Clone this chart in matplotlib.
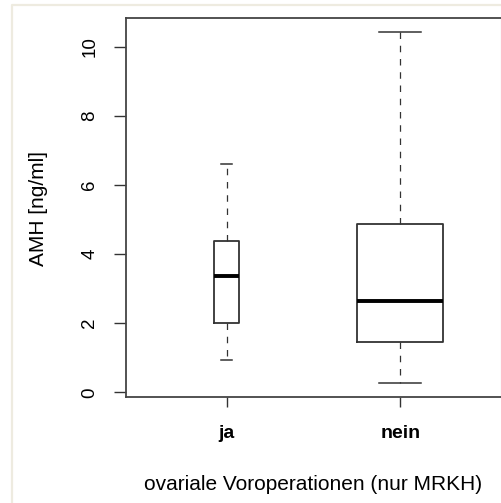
import matplotlib
matplotlib.use("Agg")
import matplotlib.pyplot as plt
from matplotlib.lines import Line2D

plt.rcParams['font.family'] = ['Liberation Sans', 'DejaVu Sans']

groups = ['ja', 'nein']
whislo = [0.95, 0.27]
q1 = [2.0, 1.45]
med = [3.36, 2.63]
q3 = [4.39, 4.87]
whishi = [6.61, 10.43]
yticks = [0, 2, 4, 6, 8, 10]
ylabel = 'AMH [ng/ml]'
xlabel = 'ovariale Voroperationen (nur MRKH)'

W, H = 502, 503
fig = plt.figure(figsize=(W / 100, H / 100), dpi=100, facecolor='white')

# light beige outer frame
fig.add_artist(Line2D([12 / W, 12 / W, 1.0], [0.0, 1 - 5 / H, 1 - 5 / H],
                      transform=fig.transFigure, color='#EEEBE0', lw=1.6))

ax = fig.add_axes([126 / W, 1 - 397 / H, (501 - 126) / W, (397 - 18) / H])

stats = []
for g, lo, a, m, b, hi in zip(groups, whislo, q1, med, q3, whishi):
    stats.append(dict(label=g, whislo=lo, q1=a, med=m, q3=b, whishi=hi, fliers=[]))

ax.bxp(stats, positions=[1, 2], widths=[0.145, 0.496], capwidths=[0.06, 0.24],
       boxprops=dict(color='#333333', lw=1.3),
       medianprops=dict(color='black', lw=2.8, solid_capstyle='butt'),
       whiskerprops=dict(color='#333333', lw=0.9, dashes=(5.2, 5.4)),
       capprops=dict(color='#333333', lw=1.1),
       showfliers=False, manage_ticks=False)

ax.set_xlim(0.42, 2.58)
ax.set_ylim(-0.136, 10.84)
ax.set_xticks([1, 2])
ax.set_xticklabels(groups, fontsize=14, fontweight='bold')
ax.set_yticks(yticks)
ax.set_yticklabels([str(t) for t in yticks], fontsize=13.5, rotation=90, va='center')

for s in ax.spines.values():
    s.set_color('#444444')
    s.set_linewidth(1.3)
ax.spines['right'].set_color('#bbbbbb')
ax.spines['right'].set_linewidth(0.8)

ax.tick_params(axis='y', length=9, width=1.0, color='#333333', pad=11)
ax.tick_params(axis='x', length=7.5, width=1.0, color='#333333', pad=13)

ax.set_ylabel(ylabel, fontsize=15)
ax.set_xlabel(xlabel, fontsize=15)
ax.yaxis.set_label_coords(38 / W, 1 - 208 / H, transform=fig.transFigure)
ax.yaxis.label.set_va('center')
ax.xaxis.set_label_coords(313 / W, 1 - 484 / H, transform=fig.transFigure)
ax.xaxis.label.set_va('center')

fig.savefig('out.png', dpi=100, facecolor='white')
